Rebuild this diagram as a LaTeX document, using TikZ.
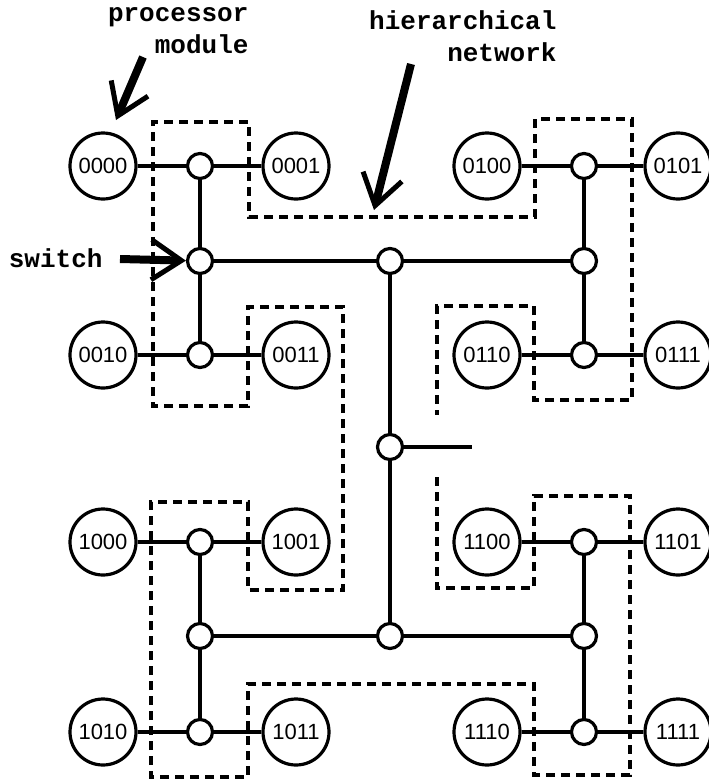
\documentclass[tikz,border=0pt]{standalone}
\usepackage{fontspec}
\setmonofont{Liberation Mono}
\setsansfont{Liberation Sans}
\usetikzlibrary{arrows.meta}
\tikzset{
  pm/.style={circle, draw, line width=3.2pt, minimum size=66pt, inner sep=0pt, font=\sffamily\fontsize{22}{22}\selectfont},
  sw/.style={circle, draw, line width=3.2pt, minimum size=25pt, inner sep=0pt, fill=white},
  link/.style={line width=3.2pt},
  bound/.style={line width=3.4pt, dash pattern=on 9pt off 6pt},
  callout/.style={line width=8pt, -{Straight Barb[length=30pt, width=40pt, line width=5pt]}},
  lbl/.style={font=\ttfamily\bfseries\fontsize{26}{32}\selectfont, align=right}
}
\begin{document}
\begin{tikzpicture}[x=1pt, y=-1pt]
\useasboundingbox (0,0) rectangle (709,782);
\node[lbl, anchor=east] (pmlbl) at (252,31) {processor\\module};
\node[lbl, anchor=east] (netlbl) at (560,36) {hierarchical\\network};
\node[lbl, anchor=east] (swlbl) at (106,258) {switch};
\node[pm] (p0000) at (103,166) {0000};\node[sw] (s000) at (200,166) {};\node[pm] (p0001) at (296,166) {0001};
\node[pm] (p0010) at (103,355) {0010};\node[sw] (s001) at (200,355) {};\node[pm] (p0011) at (296,355) {0011};
\node[pm] (p0100) at (487,166) {0100};\node[sw] (s010) at (584,166) {};\node[pm] (p0101) at (678,166) {0101};
\node[pm] (p0110) at (487,355) {0110};\node[sw] (s011) at (584,355) {};\node[pm] (p0111) at (678,355) {0111};
\node[pm] (p1000) at (103,542) {1000};\node[sw] (s100) at (200,542) {};\node[pm] (p1001) at (296,542) {1001};
\node[pm] (p1010) at (103,732) {1010};\node[sw] (s101) at (200,732) {};\node[pm] (p1011) at (296,732) {1011};
\node[pm] (p1100) at (487,542) {1100};\node[sw] (s110) at (584,542) {};\node[pm] (p1101) at (678,542) {1101};
\node[pm] (p1110) at (487,732) {1110};\node[sw] (s111) at (584,732) {};\node[pm] (p1111) at (678,732) {1111};
\node[sw] (s00) at (200,261) {};\node[sw] (s01) at (584,261) {};
\node[sw] (s10) at (200,636) {};\node[sw] (s11) at (584,636) {};
\node[sw] (s0) at (390,261) {};\node[sw] (s1) at (390,636) {};\node[sw] (root) at (390,447) {};
\coordinate (stub) at (472,447);
\draw[link] (p0000) -- (s000) -- (p0001);\draw[link] (p0010) -- (s001) -- (p0011);
\draw[link] (p0100) -- (s010) -- (p0101);\draw[link] (p0110) -- (s011) -- (p0111);
\draw[link] (p1000) -- (s100) -- (p1001);\draw[link] (p1010) -- (s101) -- (p1011);
\draw[link] (p1100) -- (s110) -- (p1101);\draw[link] (p1110) -- (s111) -- (p1111);
\draw[link] (s000) -- (s00) -- (s001);\draw[link] (s010) -- (s01) -- (s011);
\draw[link] (s100) -- (s10) -- (s101);\draw[link] (s110) -- (s11) -- (s111);
\draw[link] (s00) -- (s0) -- (s01);\draw[link] (s10) -- (s1) -- (s11);
\draw[link] (s0) -- (root) -- (s1);\draw[link] (root) -- (stub);
\draw[bound] (437,477) -- (437,588) -- (534,588) -- (534,496) -- (630,496) -- (630,775) -- (534,775) -- (534,684)
  -- (248,684) -- (248,777) -- (151,777) -- (151,502) -- (248,502) -- (248,590) -- (343,590) -- (343,307)
  -- (248,307) -- (248,406) -- (153,406) -- (153,122) -- (249,122) -- (249,217) -- (535,217) -- (535,119)
  -- (632,119) -- (632,400) -- (534,400) -- (534,306) -- (437,306) -- (437,415);
\coordinate (pmtail) at (143,57);\coordinate (pmtip) at (116,120);
\coordinate (nettail) at (411,64);\coordinate (nettip) at (374,210);
\coordinate (swtail) at (120,259);
\draw[callout] (pmtail) -- (pmtip);\draw[callout] (nettail) -- (nettip);\draw[callout] (swtail) -- (s00);
\end{tikzpicture}
\end{document}
